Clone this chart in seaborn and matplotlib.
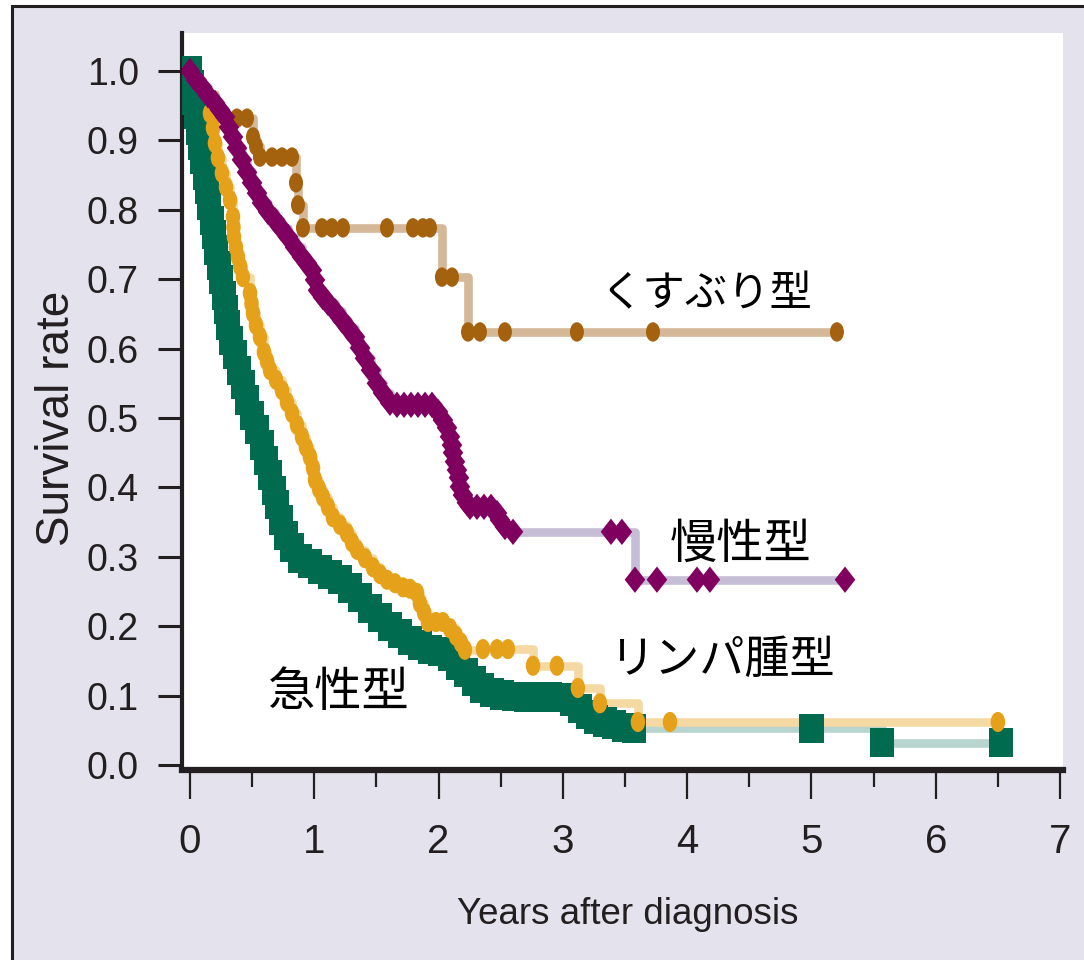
import matplotlib
matplotlib.use("Agg")
import matplotlib.pyplot as plt
import seaborn as sns
from matplotlib.path import Path
from matplotlib.transforms import Affine2D
from matplotlib.patches import Rectangle
from matplotlib.ticker import MultipleLocator

# ---------------------------------------------------------------------------
# Kaplan-Meier survival estimates by ATL clinical subtype
# (years after diagnosis, survival rate)
# ---------------------------------------------------------------------------
acute_t = [0.000, 0.016, 0.032, 0.048, 0.064, 0.080, 0.097, 0.121, 0.137, 0.153,
           0.177, 0.193, 0.209, 0.233, 0.249, 0.274, 0.290, 0.306, 0.330, 0.362,
           0.394, 0.426, 0.459, 0.499, 0.539, 0.579, 0.611, 0.644, 0.676, 0.700,
           0.732, 0.772, 0.821, 0.885, 0.965, 1.046, 1.126, 1.207, 1.287, 1.368,
           1.448, 1.529, 1.609, 1.689, 1.770, 1.850, 1.931, 2.011, 2.092, 2.156,
           2.220, 2.285, 2.349, 2.430, 2.510, 2.607, 2.703, 2.800, 2.896, 2.993,
           3.073, 3.138, 3.202, 3.266, 3.339, 3.411, 3.492, 3.572, 5.000, 5.567,
           6.525]
acute_s = [1.000, 0.980, 0.958, 0.937, 0.915, 0.893, 0.872, 0.850, 0.829, 0.807,
           0.785, 0.764, 0.742, 0.720, 0.699, 0.677, 0.656, 0.634, 0.612, 0.591,
           0.569, 0.548, 0.526, 0.504, 0.483, 0.461, 0.439, 0.418, 0.396, 0.375,
           0.353, 0.331, 0.313, 0.298, 0.290, 0.282, 0.275, 0.267, 0.255, 0.241,
           0.226, 0.212, 0.199, 0.189, 0.180, 0.173, 0.167, 0.163, 0.156, 0.144,
           0.133, 0.121, 0.111, 0.104, 0.101, 0.099, 0.098, 0.098, 0.098, 0.097,
           0.091, 0.082, 0.073, 0.066, 0.062, 0.058, 0.054, 0.053, 0.053, 0.032,
           0.032]

lymphoma_t = [0.000, 0.030, 0.161, 0.185, 0.201, 0.225, 0.257, 0.290, 0.322, 0.346,
              0.350, 0.354, 0.370, 0.386, 0.405, 0.426, 0.483, 0.495, 0.507, 0.531,
              0.563, 0.595, 0.620, 0.644, 0.692, 0.740, 0.780, 0.821, 0.861, 0.901,
              0.933, 0.965, 0.990, 1.006, 1.038, 1.070, 1.110, 1.150, 1.207, 1.263,
              1.303, 1.344, 1.408, 1.472, 1.529, 1.585, 1.649, 1.714, 1.770, 1.826,
              1.850, 1.883, 1.915, 1.979, 2.035, 2.092, 2.140, 2.180, 2.212, 2.357,
              2.470, 2.558, 2.760, 2.952, 3.121, 3.298, 3.604, 3.862, 6.500]
lymphoma_s = [1.000, 0.955, 0.939, 0.918, 0.896, 0.875, 0.853, 0.833, 0.814, 0.790,
              0.775, 0.761, 0.746, 0.732, 0.718, 0.703, 0.680, 0.665, 0.651, 0.634,
              0.617, 0.595, 0.582, 0.569, 0.555, 0.540, 0.523, 0.507, 0.490, 0.473,
              0.458, 0.444, 0.428, 0.411, 0.398, 0.386, 0.372, 0.357, 0.346, 0.334,
              0.321, 0.310, 0.298, 0.285, 0.275, 0.267, 0.262, 0.256, 0.254, 0.248,
              0.233, 0.220, 0.206, 0.206, 0.206, 0.197, 0.186, 0.176, 0.166, 0.167,
              0.167, 0.167, 0.143, 0.143, 0.111, 0.089, 0.062, 0.062, 0.062]

chronic_t = [0.000, 0.048, 0.097, 0.145, 0.201, 0.241, 0.282, 0.314, 0.346, 0.378,
             0.418, 0.459, 0.499, 0.539, 0.579, 0.628, 0.684, 0.732, 0.788, 0.845,
             0.901, 0.941, 0.981, 1.006, 1.030, 1.070, 1.110, 1.167, 1.223, 1.271,
             1.327, 1.368, 1.408, 1.456, 1.504, 1.553, 1.609, 1.665, 1.722, 1.778,
             1.834, 1.891, 1.947, 1.995, 2.035, 2.068, 2.092, 2.108, 2.116, 2.132,
             2.148, 2.164, 2.172, 2.196, 2.228, 2.253, 2.309, 2.365, 2.422, 2.470,
             2.494, 2.534, 2.599, 3.387, 3.475, 3.580, 3.757, 4.079, 4.183, 5.270]
chronic_s = [1.000, 0.987, 0.977, 0.965, 0.954, 0.944, 0.934, 0.919, 0.905, 0.889,
             0.872, 0.854, 0.839, 0.824, 0.810, 0.797, 0.785, 0.774, 0.761, 0.746,
             0.732, 0.723, 0.713, 0.699, 0.684, 0.674, 0.666, 0.654, 0.641, 0.630,
             0.617, 0.601, 0.586, 0.569, 0.550, 0.536, 0.522, 0.519, 0.519, 0.519,
             0.519, 0.519, 0.519, 0.509, 0.497, 0.486, 0.473, 0.461, 0.450, 0.437,
             0.425, 0.414, 0.401, 0.389, 0.378, 0.372, 0.372, 0.372, 0.372, 0.363,
             0.353, 0.343, 0.336, 0.336, 0.336, 0.267, 0.267, 0.267, 0.267, 0.267]

smoldering_t = [0.000, 0.020, 0.200, 0.378, 0.459, 0.507, 0.531, 0.563, 0.660, 0.740,
                0.821, 0.853, 0.869, 0.909, 1.062, 1.142, 1.231, 1.585, 1.794, 1.874,
                1.931, 2.027, 2.108, 2.237, 2.333, 2.534, 3.113, 3.725, 5.205]
smoldering_s = [1.000, 0.967, 0.933, 0.932, 0.932, 0.905, 0.892, 0.876, 0.876, 0.876,
                0.876, 0.839, 0.807, 0.774, 0.774, 0.774, 0.774, 0.774, 0.774, 0.774,
                0.774, 0.703, 0.703, 0.624, 0.624, 0.624, 0.624, 0.624, 0.624]

subtype_labels = ["急性型", "リンパ腫型", "慢性型", "くすぶり型"]
label_pos = [(0.63, 0.104), (3.37, 0.151), (3.86, 0.317), (3.30, 0.678)]
label_size = [34, 32.5, 34, 30.5]

x_ticks = [0, 1, 2, 3, 4, 5, 6, 7]
y_ticks = [0.0, 0.1, 0.2, 0.3, 0.4, 0.5, 0.6, 0.7, 0.8, 0.9, 1.0]

# ---------------------------------------------------------------------------
# Styling
# ---------------------------------------------------------------------------
sns.set_style("white")
ink = "#231F20"
panel_bg = "#E4E3ED"

plt.rcParams["font.family"] = ["Liberation Sans", "DejaVu Sans"]
plt.rcParams["lines.solid_capstyle"] = "butt"

# marker shapes: tall ellipse, tall diamond, tall rectangle
codes4 = [Path.MOVETO, Path.LINETO, Path.LINETO, Path.LINETO, Path.CLOSEPOLY]
ellipse = Path.unit_circle().transformed(Affine2D().scale(0.72, 1.0))
diamond = Path([(0, 1), (0.78, 0), (0, -1), (-0.78, 0), (0, 1)], codes4)
rect = Path([(-0.85, -1), (0.85, -1), (0.85, 1), (-0.85, 1), (-0.85, -1)], codes4)

# first = index of the first observation drawn with a marker
series = {
    "acute": dict(t=acute_t, s=acute_s, mark="#006B4F", line="#B7D4CE",
                  marker=rect, size=21.0, first=0),
    "lymphoma": dict(t=lymphoma_t, s=lymphoma_s, mark="#E6A11B", line="#F5D9A3",
                     marker=ellipse, size=14.5, first=2),
    "smoldering": dict(t=smoldering_t, s=smoldering_s, mark="#A5620E", line="#D5B898",
                       marker=ellipse, size=14.0, first=3),
    "chronic": dict(t=chronic_t, s=chronic_s, mark="#80005F", line="#C6BED6",
                    marker=diamond, size=19.0, first=0),
}

fig = plt.figure(figsize=(10.84, 9.6), dpi=100, facecolor="white")

# framed lavender panel behind the plot
fig.patches.append(Rectangle((12 / 1084, -0.05), 1.2, 1.05 - 6 / 960,
                             transform=fig.transFigure, facecolor=panel_bg,
                             edgecolor=ink, linewidth=2.2, zorder=-10))

ax = fig.add_axes([0.1678, 0.1979, 0.8124, 0.7679])
ax.set_facecolor("white")

# step lines (light tints), then markers on top
for key in ["acute", "lymphoma", "chronic", "smoldering"]:
    d = series[key]
    sns.lineplot(x=d["t"], y=d["s"], ax=ax, color=d["line"], linewidth=6.2,
                 drawstyle="steps-post", estimator=None, sort=False, zorder=2)

for z, key in enumerate(["acute", "lymphoma", "smoldering", "chronic"]):
    d = series[key]
    k = d["first"]
    sns.scatterplot(x=d["t"][k:], y=d["s"][k:], ax=ax, color=d["mark"],
                    marker=d["marker"], s=d["size"] ** 2, linewidth=0,
                    edgecolor="none", zorder=3 + z)

for text, (tx, ty), fs in zip(subtype_labels, label_pos, label_size):
    ax.text(tx, ty, text, ha="left", va="center", fontsize=fs, color="black",
            family=["Noto Sans CJK JP", "DejaVu Sans"], zorder=10)

ax.set_xlim(-0.065, 7.02)
ax.set_ylim(-0.0072, 1.055)
ax.set_xticks(x_ticks)
ax.set_xticklabels([str(v) for v in x_ticks])
ax.set_yticks(y_ticks)
ax.set_yticklabels([f"{v:.1f}" for v in y_ticks])
ax.xaxis.set_minor_locator(MultipleLocator(0.5))

for side in ["top", "right"]:
    ax.spines[side].set_visible(False)
ax.spines["left"].set_linewidth(3.0)
ax.spines["left"].set_color(ink)
ax.spines["bottom"].set_linewidth(4.5)
ax.spines["bottom"].set_color(ink)

ax.tick_params(axis="y", which="major", direction="out", length=17, width=2.2,
               color=ink, labelcolor=ink, labelsize=27, pad=14, left=True)
ax.tick_params(axis="x", which="major", direction="out", length=21, width=1.6,
               color=ink, labelcolor=ink, labelsize=29, pad=17, bottom=True)
ax.tick_params(axis="x", which="minor", direction="out", length=12, width=1.6,
               color=ink, bottom=True)

ax.set_xlabel("Years after diagnosis", fontsize=26.5, color=ink)
ax.set_ylabel("Survival rate", fontsize=33, color=ink)
ax.xaxis.set_label_coords(0.5066, -0.172)
ax.yaxis.set_label_coords(-0.117, 0.477)

fig.savefig("out.png", dpi=100, facecolor=fig.get_facecolor())
